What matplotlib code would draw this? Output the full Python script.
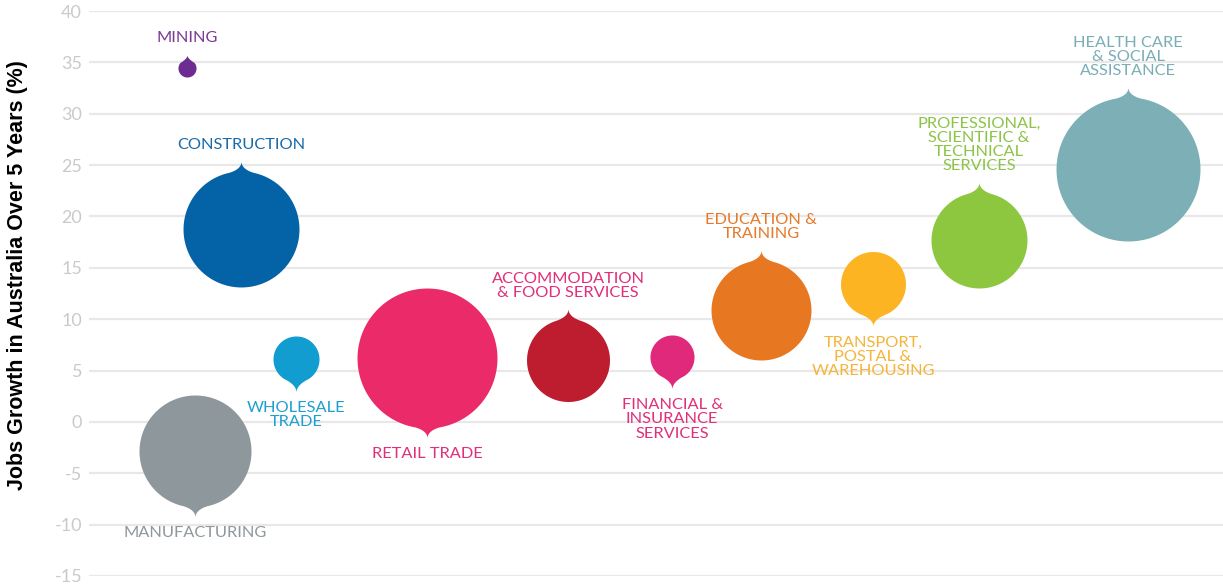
import numpy as np
import matplotlib
matplotlib.use("Agg")
import matplotlib.pyplot as plt
from matplotlib.path import Path
from matplotlib.markers import MarkerStyle

plt.rcParams["axes.unicode_minus"] = False

# industries, left to right as drawn
industries = ["MINING", "CONSTRUCTION", "WHOLESALE\nTRADE", "MANUFACTURING",
              "RETAIL TRADE", "ACCOMMODATION\n& FOOD SERVICES",
              "FINANCIAL &\nINSURANCE\nSERVICES", "EDUCATION &\nTRAINING",
              "TRANSPORT,\nPOSTAL &\nWAREHOUSING",
              "PROFESSIONAL,\nSCIENTIFIC &\nTECHNICAL\nSERVICES",
              "HEALTH CARE\n& SOCIAL\nASSISTANCE"]
# horizontal placement (no scale on this axis)
position = [9.8, 15.2, 20.7, 10.6, 33.8, 47.9, 58.3, 67.2, 78.4, 89.0, 103.9]
# jobs growth over 5 years (%)
growth = [34.5, 18.8, 6.1, -2.8, 6.2, 6.0, 6.3, 10.9, 13.4, 17.7, 24.6]
# bubble size (relative employment)
bubble = [22, 908, 143, 847, 1323, 465, 131, 675, 285, 622, 1400]
# pointer up (1) or down (-1)
pointer = [1, 1, -1, -1, -1, 1, -1, 1, -1, 1, 1]

bubble_colors = ["#6d2c91", "#0462a6", "#119dd0", "#8d979c", "#eb2a6a", "#bd1d2f",
                 "#e0297b", "#e87722", "#fcb423", "#8dc63f", "#7cb0b6"]
label_colors = ["#7a3b93", "#1a6aa8", "#1f9fcf", "#8f979b", "#e0307a", "#e0307a",
                "#e0307a", "#e57a2a", "#f5b43a", "#8cc448", "#7aaeb6"]

DPI = 100
R_MAX = 72  # px radius of the largest bubble


def drop_marker(r_px, direction):
    # circle of radius 1 with a small pointer
    tip = min(10.0, 0.45 * r_px) / r_px
    half = min(12.0, 0.8 * r_px) / r_px
    th = np.arcsin(min(half, 0.95))
    a = np.linspace(np.pi / 2 + th, np.pi / 2 - th + 2 * np.pi, 120)
    circ = np.column_stack([np.cos(a), np.sin(a)])
    p0 = circ[-1]
    p2 = circ[0]
    tpt = np.array([0.0, 1 + tip])
    ctrl = np.array([0.0, 1.0 + 0.25 * tip])
    s = np.linspace(0, 1, 12)[:, None]
    right = (1 - s) ** 2 * p0 + 2 * (1 - s) * s * ctrl + s ** 2 * tpt
    left = (1 - s) ** 2 * tpt + 2 * (1 - s) * s * ctrl + s ** 2 * p2
    verts = np.vstack([circ, right, left[1:], circ[:1]])
    verts[:, 1] *= direction
    codes = [Path.MOVETO] + [Path.LINETO] * (len(verts) - 2) + [Path.CLOSEPOLY]
    return MarkerStyle(Path(verts, codes)), 1 + tip


fig = plt.figure(figsize=(12.23, 5.85), dpi=DPI)
ax = fig.add_axes([89 / 1223, 9 / 585, 1 - 89 / 1223, 565 / 585])
ax.set_xlim(0, 113.4)
ax.set_ylim(-15, 40)
ax.set_yticks(np.arange(-15, 41, 5))
ax.set_xticks([])
for sp in ax.spines.values():
    sp.set_visible(False)
ax.grid(axis="y", color="#e8e8e8", linewidth=1.6)
ax.set_axisbelow(True)
ax.tick_params(axis="y", length=0, pad=5, labelcolor="#cacaca", labelsize=13)
for t in ax.get_yticklabels():
    t.set_fontfamily(["Lato", "DejaVu Sans"])

for i in range(len(industries)):
    r_px = R_MAX * np.sqrt(bubble[i] / max(bubble))
    m, ext = drop_marker(r_px, pointer[i])
    ms = 2 * ext * r_px * 72 / DPI
    ax.plot(position[i], growth[i], linestyle="none", marker=m, markersize=ms,
            color=bubble_colors[i], markeredgewidth=0, zorder=3)
    off = (ext * r_px + 9) * 72 / DPI
    ax.annotate(industries[i], (position[i], growth[i]),
                xytext=(0, off * pointer[i]), textcoords="offset points",
                ha="center", va="bottom" if pointer[i] > 0 else "top",
                multialignment="center", linespacing=1.02,
                fontsize=11.8, color=label_colors[i], family=["Lato", "DejaVu Sans"])

fig.text(0.014, 0.53, "Jobs Growth in Australia Over 5 Years (%)", rotation=90,
         ha="center", va="center", fontsize=15.5, fontweight="bold",
         family=["Liberation Sans", "DejaVu Sans"])

fig.savefig("out.png", dpi=DPI)
